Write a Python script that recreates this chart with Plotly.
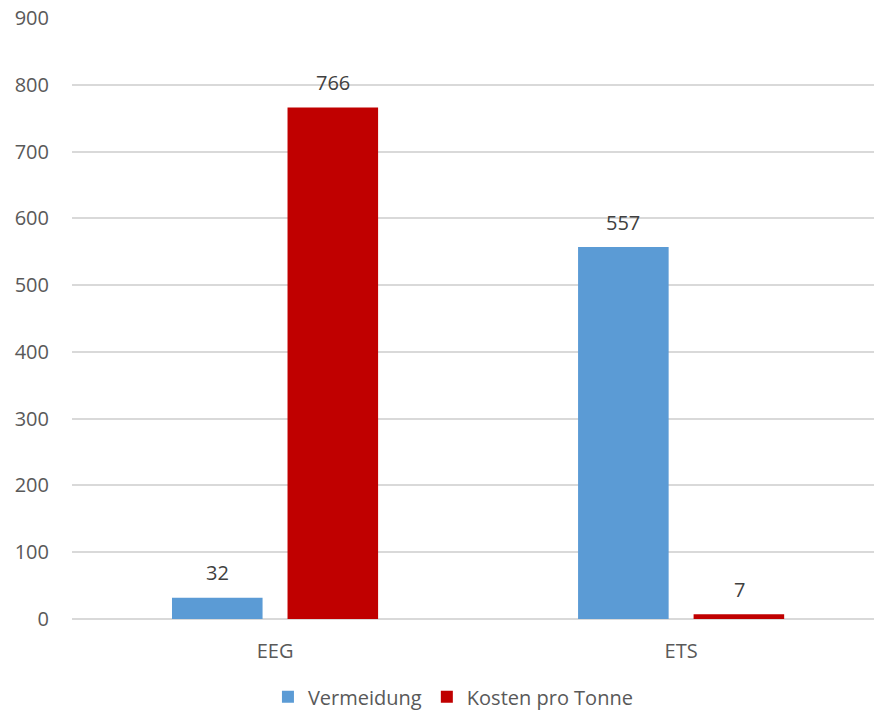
import plotly.graph_objects as go

categories = ["EEG", "ETS"]
vermeidung = [32, 557]
kosten = [766, 7]
series_names = ["Vermeidung", "Kosten pro Tonne"]
y_ticks = [0, 100, 200, 300, 400, 500, 600, 700, 800, 900]

FONT = "Open Sans"
GREY = "#595959"

fig = go.Figure()
fig.add_bar(x=categories, y=vermeidung, name=series_names[0], marker_color="#5B9BD5",
            marker_line_width=0)
fig.add_bar(x=categories, y=kosten, name=series_names[1], marker_color="#C00000",
            marker_line_width=0)

# data labels
offset_px = 58
for vals, shift in ((vermeidung, -offset_px), (kosten, offset_px)):
    for i, v in enumerate(vals):
        fig.add_annotation(x=i, y=v, xref="x", yref="y", text=str(v), showarrow=False,
                           xshift=shift, yshift=25, yanchor="middle",
                           font=dict(family=FONT, size=20, color="#404040"))

fig.update_layout(
    width=874, height=717,
    margin=dict(l=72, r=0, t=18, b=98),
    paper_bgcolor="white", plot_bgcolor="white",
    barmode="group", bargap=0.431, bargroupgap=0.216,
    font=dict(family=FONT, size=20, color=GREY),
    showlegend=True,
    legend=dict(orientation="h", x=0.475, xanchor="center", y=-0.162, yanchor="bottom",
                font=dict(family=FONT, size=20, color=GREY), itemwidth=30,
                traceorder="normal"),
    xaxis=dict(range=[-0.5, 1.475], showgrid=False, showline=False, ticks="",
               tickfont=dict(family=FONT, size=20, color=GREY), ticklabelstandoff=18),
    yaxis=dict(range=[0, 900], tickvals=y_ticks, showgrid=True, gridcolor="#D9D9D9",
               gridwidth=1.5, zeroline=True, zerolinecolor="#D9D9D9", zerolinewidth=1.5,
               showline=False, ticks="", ticklabelstandoff=22,
               tickfont=dict(family=FONT, size=20, color=GREY)),
)

fig.write_html("out.html")
